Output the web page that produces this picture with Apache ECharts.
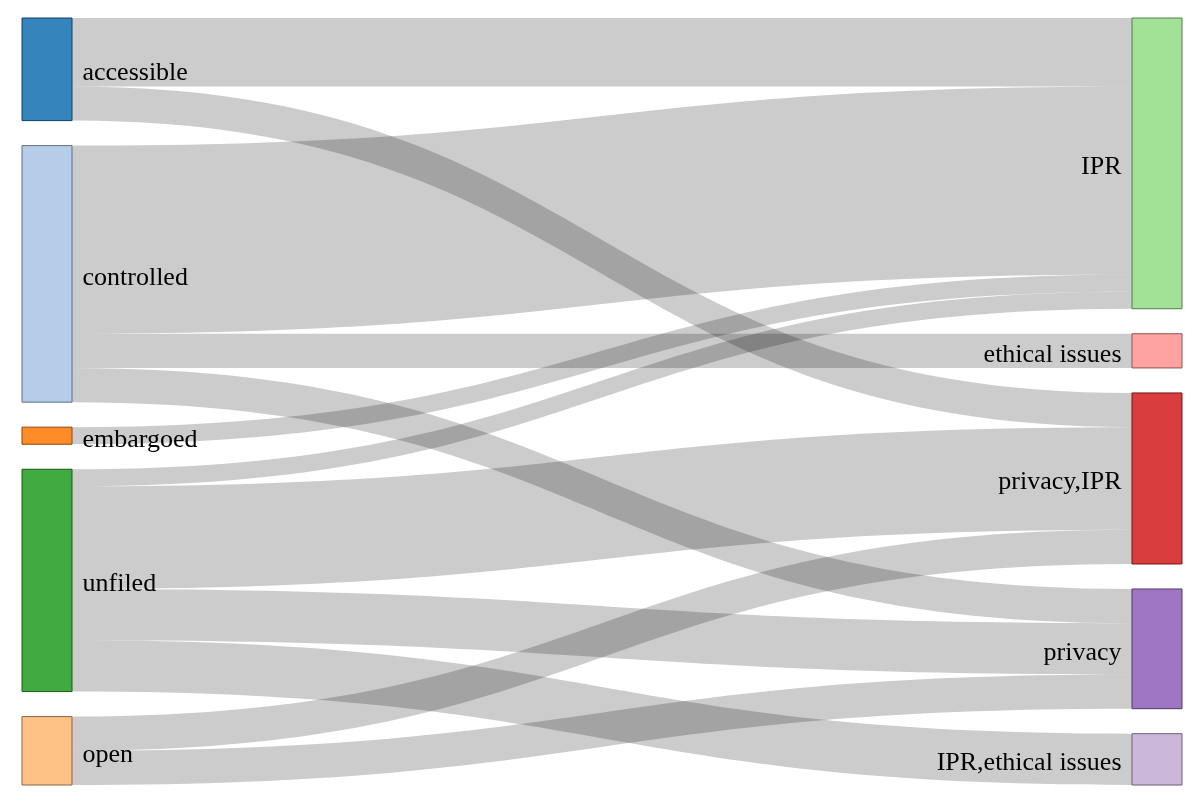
<!DOCTYPE html>
<html>
<head>
<meta charset="utf-8">
<script src="https://cdn.jsdelivr.net/npm/echarts@6/dist/echarts.min.js"></script>
<style>html,body{margin:0;padding:0;background:#fff}#c{width:1200px;height:807px}</style>
</head>
<body>
<div id="c"></div>
<script>
// Data
var sourceNames = ['accessible', 'controlled', 'embargoed', 'unfiled', 'open'];
var targetNames = ['IPR', 'ethical issues', 'privacy,IPR', 'privacy', 'IPR,ethical issues'];
var linkSources = ['accessible', 'accessible', 'controlled', 'controlled', 'controlled', 'embargoed', 'unfiled', 'unfiled', 'unfiled', 'unfiled', 'open', 'open'];
var linkTargets = ['IPR', 'privacy,IPR', 'IPR', 'ethical issues', 'privacy', 'IPR', 'IPR', 'privacy,IPR', 'privacy', 'IPR,ethical issues', 'privacy,IPR', 'privacy'];
var linkValues = [4, 2, 11, 2, 2, 1, 1, 6, 3, 3, 2, 2];

// Style
var palette = ['#1f77b4', '#aec7e8', '#ff7f0e', '#ffbb78', '#2ca02c', '#98df8a', '#d62728', '#ff9896', '#9467bd', '#c5b0d5'];
var nodeOrder = sourceNames.concat(targetNames);
var colorIdx = { 'accessible': 0, 'controlled': 1, 'embargoed': 2, 'open': 3, 'unfiled': 4, 'IPR': 5, 'privacy,IPR': 6, 'ethical issues': 7, 'privacy': 8, 'IPR,ethical issues': 9 };

function hexToRgb(h) { return [parseInt(h.substr(1, 2), 16), parseInt(h.substr(3, 2), 16), parseInt(h.substr(5, 2), 16)]; }
function fillColor(h) { var c = hexToRgb(h); return 'rgb(' + c.map(function (v) { return Math.round(v * 0.9 + 25.5); }).join(',') + ')'; }
function darker(h) { var c = hexToRgb(h); return 'rgb(' + c.map(function (v) { return Math.round(v * 0.55); }).join(',') + ')'; }

var nodes = nodeOrder.map(function (n) {
  var col = palette[colorIdx[n]];
  var isTarget = targetNames.indexOf(n) >= 0;
  return {
    name: n,
    itemStyle: { color: fillColor(col), borderColor: darker(col), borderWidth: 1 },
    label: { position: isTarget ? 'left' : 'right' }
  };
});
var links = linkValues.map(function (v, i) {
  return { source: linkSources[i], target: linkTargets[i], value: v };
});

var chart = echarts.init(document.getElementById('c'), null, { renderer: 'canvas' });
chart.setOption({
  backgroundColor: '#fff',
  animation: false,
  series: [{
    type: 'sankey',
    left: 22, right: 18, top: 18, bottom: 22,
    nodeWidth: 50,
    nodeGap: 25,
    layoutIterations: 0,
    draggable: false,
    emphasis: { disabled: true },
    label: { color: '#000', fontFamily: 'Liberation Serif', fontSize: 26, distance: 10, offset: [0, 4] },
    lineStyle: { color: '#000', opacity: 0.2, curveness: 0.5 },
    data: nodes,
    links: links
  }]
});
</script>
</body>
</html>
